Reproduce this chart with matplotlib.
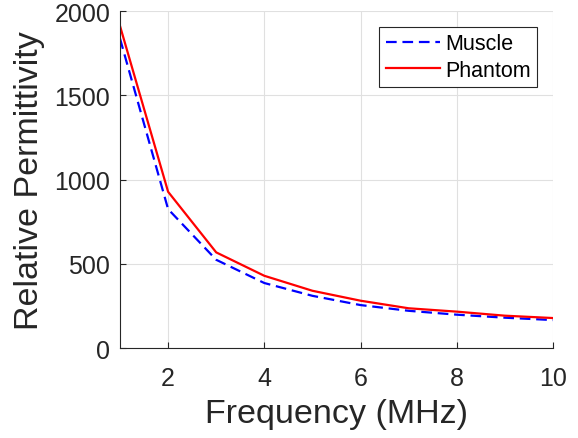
import matplotlib.pyplot as plt

plt.rcParams['font.family'] = ['Liberation Sans', 'DejaVu Sans']

freq = [1, 2, 3, 4, 5, 6, 7, 8, 9, 10]
muscle = [1838, 825, 524, 386, 310, 255, 221, 198, 180, 166]
phantom = [1913, 928, 568, 429, 340, 281, 236, 216, 192, 178]

fig = plt.figure(figsize=(5.78, 4.39), dpi=100)
ax = fig.add_axes([0.2076, 0.205, 0.749, 0.767])

ax.plot(freq, muscle, '--', color='#0000ff', lw=1.6, dashes=(4.8, 2.6), label='Muscle')
ax.plot(freq, phantom, '-', color='#ff0000', lw=1.6, label='Phantom')

ax.set_xlim(1, 10)
ax.set_ylim(0, 2000)
ax.set_xticks([2, 4, 6, 8, 10])
ax.set_yticks([0, 500, 1000, 1500, 2000])
ax.grid(True, color='#e0e0e0', lw=0.8)
ax.set_axisbelow(True)

for s in ['top', 'right']:
    ax.spines[s].set_visible(False)
for s in ['left', 'bottom']:
    ax.spines[s].set_color('#262626')
ax.tick_params(direction='in', length=4, labelsize=18, colors='#262626')
ax.tick_params(axis='x', pad=13)
ax.tick_params(axis='y', pad=7)

ax.set_xlabel('Frequency (MHz)', fontsize=24.5, color='#262626', labelpad=6)
ax.set_ylabel('Relative Permittivity', fontsize=24.5, color='#262626', labelpad=7)

leg = ax.legend(loc='upper right', bbox_to_anchor=(0.9635, 0.954), fontsize=15.5,
                fancybox=False, edgecolor='#262626', framealpha=1,
                handlelength=2.5, borderpad=0.3, labelspacing=0.25,
                handletextpad=0.25, borderaxespad=0)
leg.get_frame().set_linewidth(0.8)

fig.savefig('out.png', dpi=100)
